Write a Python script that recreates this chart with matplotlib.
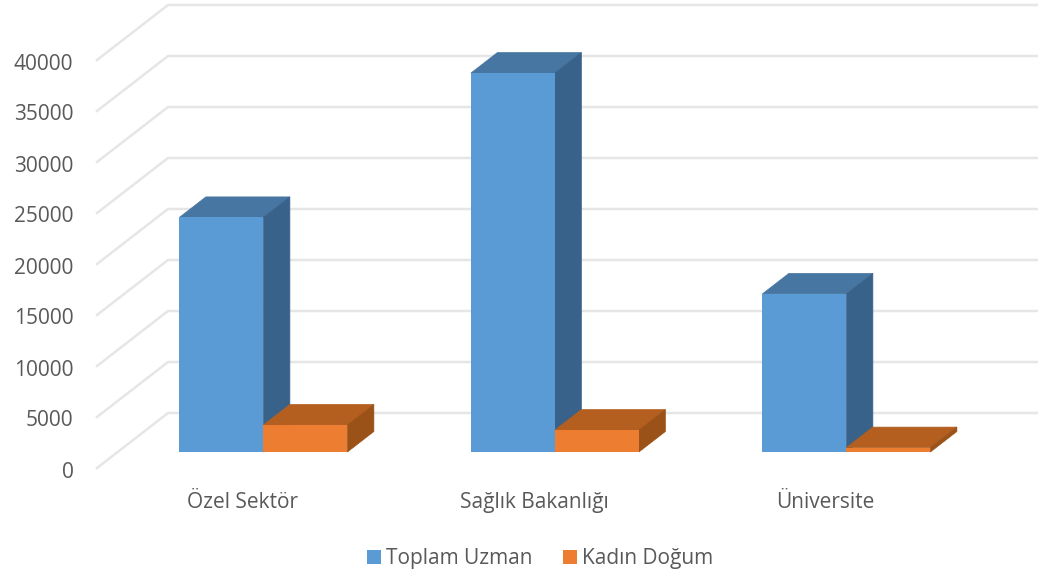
import matplotlib.pyplot as plt
import numpy as np
from matplotlib.patches import Patch, Polygon
from matplotlib.transforms import ScaledTranslation

categories = ['Özel Sektör', 'Sağlık Bakanlığı', 'Üniversite']
toplam_uzman = [23000, 37150, 15500]
kadin_dogum = [2650, 2150, 430]
y_ticks = [0, 5000, 10000, 15000, 20000, 25000, 30000, 35000, 40000]

W, H = 1038, 575
TEXT = '#595959'
GRID = '#e6e6e6'

plt.rcParams['font.family'] = ['Open Sans', 'DejaVu Sans']

fig = plt.figure(figsize=(W / 100, H / 100), dpi=100, facecolor='white')
# axes = front plane of the fake 3d box
ax = fig.add_axes([97 / W, 1 - 468 / H, 874.5 / W, 408 / H])
ax.set_xlim(-0.5, 2.5)
ax.set_ylim(0, 40000)

# offsets for going from the front plane to the back wall
depth_x = 71 / 291.5
depth_y = 55 * 40000 / 408
# the bars only fill part of the floor
bar_start = 16 / 55
bar_depth = 20.5 / 55
bar_width = 84 / 291.5


def project(x, v, d):
    return x + d * depth_x, v + d * depth_y


def draw_bar(left, value, front, top, side):
    d1 = bar_start + bar_depth
    right = left + bar_width
    top_pts = [project(left, value, bar_start), project(right, value, bar_start),
               project(right, value, d1), project(left, value, d1)]
    side_pts = [project(right, 0, bar_start), project(right, value, bar_start),
                project(right, value, d1), project(right, 0, d1)]
    # edge in the face colour closes the seams between faces
    ax.add_patch(Polygon(top_pts, closed=True, facecolor=top, edgecolor=top, lw=0.5, zorder=3, clip_on=False))
    ax.add_patch(Polygon(side_pts, closed=True, facecolor=side, edgecolor=side, lw=0.5, zorder=3, clip_on=False))
    x0, y0 = project(left, 0, bar_start)
    ax.bar(x0, value, bar_width, bottom=y0, align='edge', color=front, zorder=3, clip_on=False)


# gridlines: slanted part on the side wall, then flat along the back wall
for t in y_ticks:
    x_back, y_back = project(-0.5, t, 1)
    ax.plot([-0.5, x_back, 2.5 + depth_x], [t, y_back, y_back], color=GRID, lw=1.8, zorder=1, clip_on=False)

xpos = np.arange(len(categories))
for i in xpos:
    draw_bar(i - bar_width, toplam_uzman[i], '#5b9bd5', '#4676a1', '#38628a')
    draw_bar(i, kadin_dogum[i], '#ed7d31', '#b45f20', '#9b5218')

ax.set_xticks(xpos, categories)
ax.set_yticks(y_ticks)
ax.tick_params(axis='both', length=0, labelsize=15, labelcolor=TEXT)
ax.tick_params(axis='y', pad=17)
ax.tick_params(axis='x', pad=17)
# y labels sit a touch lower than centre
for lab in ax.get_yticklabels():
    lab.set_transform(lab.get_transform() + ScaledTranslation(0, -1.5 / 100, fig.dpi_scale_trans))
for s in ax.spines.values():
    s.set_visible(False)
ax.patch.set_visible(False)

handles = [Patch(facecolor='#5b9bd5', label='Toplam Uzman'),
           Patch(facecolor='#ed7d31', label='Kadın Doğum')]
fig.legend(handles=handles, ncol=2, loc='center', bbox_to_anchor=(540 / W, 1 - 558.5 / H),
           frameon=False, fontsize=15, labelcolor=TEXT, handlelength=0.67, handleheight=0.67,
           handletextpad=0.24, columnspacing=1.44)

fig.savefig('out.png', dpi=100)
